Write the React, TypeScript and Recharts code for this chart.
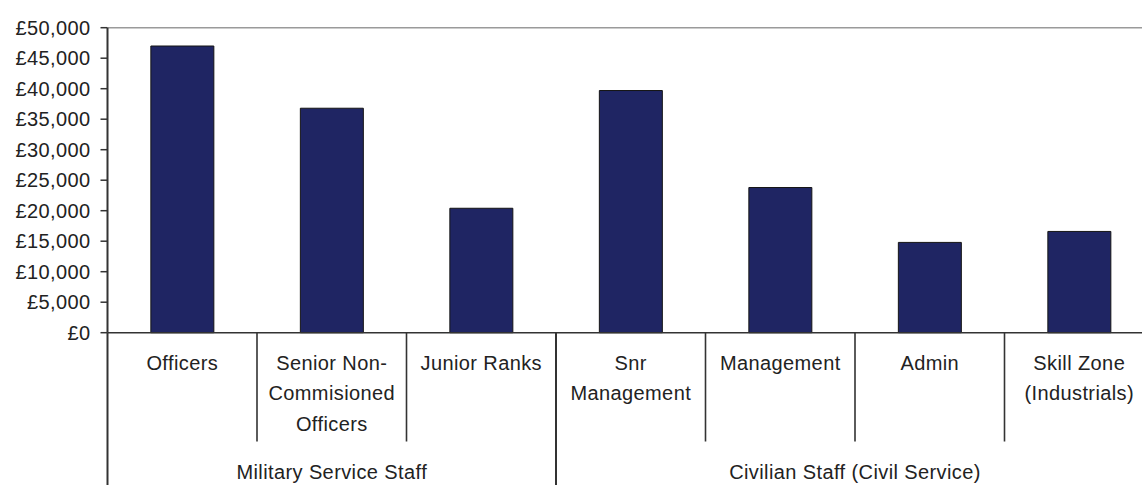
import { BarChart, Bar, XAxis, YAxis, ReferenceLine } from 'recharts';

const categories = [
  'Officers',
  'Senior Non-Commisioned Officers',
  'Junior Ranks',
  'Snr Management',
  'Management',
  'Admin',
  'Skill Zone (Industrials)',
];
const categoryLines = [
  ['Officers'],
  ['Senior Non-', 'Commisioned', 'Officers'],
  ['Junior Ranks'],
  ['Snr', 'Management'],
  ['Management'],
  ['Admin'],
  ['Skill Zone', '(Industrials)'],
];
const salaries = [47000, 36800, 20400, 39700, 23800, 14800, 16600];
const groupNames = ['Military Service Staff', 'Civilian Staff (Civil Service)'];
const groupSizes = [3, 4];
const yTicks = [0, 5000, 10000, 15000, 20000, 25000, 30000, 35000, 40000, 45000, 50000];

const data = categories.map((name, i) => ({ name, salary: salaries[i] }));

const CHART_W = 1170;
const CHART_H = 500;
const PLOT_LEFT = 107.5;
const PLOT_RIGHT = 1154;
const PLOT_TOP = 27.7;
const PLOT_BOTTOM = 332.7;
const BAND = (PLOT_RIGHT - PLOT_LEFT) / categories.length;

const FONT = '"Liberation Sans", Arial, sans-serif';
const TEXT = '#222';
const LINE = '#333';

// first category index of each group
const groupStarts = groupSizes.map((_, g) => groupSizes.slice(0, g).reduce((a, b) => a + b, 0));

function CategoryTick(props: any) {
  const { x, y, index } = props;
  const lines = categoryLines[index] || [];
  const left = x - BAND / 2;
  const g = groupStarts.indexOf(index);
  return (
    <g>
      <line
        x1={left}
        x2={left}
        y1={y}
        y2={g >= 0 ? CHART_H : 441.5}
        stroke={LINE}
        strokeWidth={g >= 0 ? 2 : 1.6}
      />
      {lines.map((l, k) => (
        <text
          key={k}
          x={x}
          y={y + 37 + k * 30.5}
          textAnchor="middle"
          fontFamily={FONT}
          fontSize={20}
          letterSpacing={0.4}
          fill={TEXT}
        >
          {l}
        </text>
      ))}
      {g >= 0 && (
        <text
          x={left + (groupSizes[g] * BAND) / 2}
          y={y + 146.5}
          textAnchor="middle"
          fontFamily={FONT}
          fontSize={20}
          letterSpacing={0.4}
          fill={TEXT}
        >
          {groupNames[g]}
        </text>
      )}
    </g>
  );
}

export default function App() {
  return (
    <div
      style={{
        position: 'fixed',
        left: 0,
        top: 0,
        width: 1142,
        height: 485,
        overflow: 'hidden',
        background: '#fff',
      }}
    >
      <BarChart
        width={CHART_W}
        height={CHART_H}
        data={data}
        margin={{ top: PLOT_TOP, right: CHART_W - PLOT_RIGHT, left: 0, bottom: 0 }}
        barCategoryGap="29%"
      >
        <ReferenceLine y={50000} stroke="#9a9a9a" strokeWidth={1.5} ifOverflow="extendDomain" />
        <XAxis
          dataKey="name"
          interval={0}
          height={CHART_H - PLOT_BOTTOM}
          tickLine={false}
          tickSize={0}
          tickMargin={0}
          axisLine={{ stroke: LINE, strokeWidth: 1.6 }}
          tick={<CategoryTick />}
        />
        <YAxis
          width={PLOT_LEFT}
          domain={[0, 50000]}
          ticks={yTicks}
          interval={0}
          tickSize={7}
          tickMargin={10}
          tickLine={{ stroke: LINE, strokeWidth: 1.5 }}
          axisLine={{ stroke: LINE, strokeWidth: 2 }}
          tickFormatter={(v: number) => `£${v.toLocaleString('en-GB')}`}
          tick={{ fill: TEXT, fontSize: 20, fontFamily: FONT, letterSpacing: 0.4 }}
        />
        <Bar
          dataKey="salary"
          fill="#1f2563"
          stroke="#151515"
          strokeWidth={1}
          isAnimationActive={false}
        />
      </BarChart>
    </div>
  );
}
